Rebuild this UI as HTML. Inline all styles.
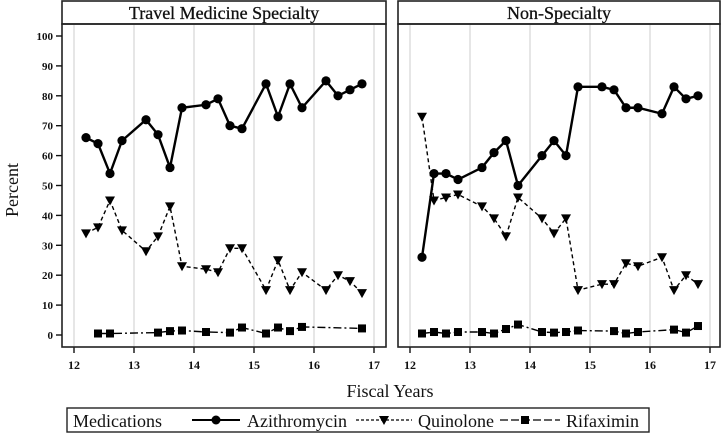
<!DOCTYPE html>
<html><head><meta charset="utf-8"><style>
body{margin:0;background:#fff;}
svg text{font-family:"Liberation Serif",serif;fill:#111;}
</style></head><body>
<svg id="chart" width="725" height="434" viewBox="0 0 725 434"></svg>
<script>
const xVals=[12.2,12.4,12.6,12.8,13.2,13.4,13.6,13.8,14.2,14.4,14.6,14.8,15.2,15.4,15.6,15.8,16.2,16.4,16.6,16.8];
const azL=[66,64,54,65,72,67,56,76,77,79,70,69,84,73,84,76,85,80,82,84];
const quL=[34,36,45,35,28,33,43,23,22,21,29,29,15,25,15,21,15,20,18,14];
const rfxL=[12.4,12.6,13.4,13.6,13.8,14.2,14.6,14.8,15.2,15.4,15.6,15.8,16.8];
const rfL=[0.5,0.5,0.8,1.3,1.5,1,0.8,2.5,0.5,2.5,1.3,2.7,2.2];
const azR=[26,54,54,52,56,61,65,50,60,65,60,83,83,82,76,76,74,83,79,80];
const quR=[73,45,46,47,43,39,33,46,39,34,39,15,17,17,24,23,26,15,20,17];
const rfxR=[12.2,12.4,12.6,12.8,13.2,13.4,13.6,13.8,14.2,14.4,14.6,14.8,15.4,15.6,15.8,16.4,16.6,16.8];
const rfR=[0.5,1,0.5,1,1,0.5,2,3.5,1,0.8,1,1.5,1.3,0.5,1,1.8,0.8,3];
const yTicks=[0,10,20,30,40,50,60,70,80,90,100];
const xTicks=[12,13,14,15,16,17];
const panels=[{title:"Travel Medicine Specialty",x0:62,x1:386,az:azL,qu:quL,rx:rfxL,rf:rfL,name:"specialty"},
{title:"Non-Specialty",x0:398,x1:720,az:azR,qu:quR,rx:rfxR,rf:rfR,name:"non-specialty"}];
const svg=document.getElementById('chart');
const NS="http://www.w3.org/2000/svg";
function mk(t,a,p){const e=document.createElementNS(NS,t);for(const k in a)e.setAttribute(k,a[k]);(p||svg).appendChild(e);return e;}
const yS=v=>335-v*2.99;
panels.forEach(p=>{
  const g=mk('g',{});
  
  
  const xS=v=>p.x0+12+(v-12)*60;
  xTicks.forEach(t=>{
    const l=mk('line',{x1:xS(t),x2:xS(t),y1:25,y2:346,stroke:'#ddd','stroke-width':1.5},g);
    
    
    mk('line',{x1:xS(t),x2:xS(t),y1:347,y2:353,stroke:'#111','stroke-width':1.4},g);
    const tx=mk('text',{x:xS(t),y:369,'font-size':12,'font-weight':'bold','text-anchor':'middle'},g);
    tx.textContent=t;
    
    
  });
  const hb=mk('rect',{x:p.x0,y:1,width:p.x1-p.x0,height:23,fill:'#fff',stroke:'#222','stroke-width':1.6},g);
  
  
  const ht=mk('text',{x:(p.x0+p.x1)/2,y:19,'font-size':18,'text-anchor':'middle',stroke:'#111','stroke-width':0.3},g);
  ht.textContent=p.title;
  
  
  const fr=mk('rect',{x:p.x0,y:24,width:p.x1-p.x0,height:323,fill:'none',stroke:'#222','stroke-width':1.6},g);
  
  
  const pl=(xs,ys,dash,w,nm)=>{const e=mk('polyline',{points:xs.map((x,i)=>xS(x)+','+yS(ys[i])).join(' '),fill:'none',stroke:'#000','stroke-width':w,'stroke-dasharray':dash},g);
    
    };
  pl(xVals,p.az,'none',2.4,'azithromycin-line');
  pl(xVals,p.qu,'4 3',1.4,'quinolone-line');
  pl(p.rx,p.rf,'8 3 2 3',1.4,'rifaximin-line');
  xVals.forEach((x,i)=>{
    const c=mk('circle',{cx:xS(x),cy:yS(p.az[i]),r:4.6,fill:'#000'},g);
    
    
    const cx=xS(x),cy=yS(p.qu[i]);
    const t=mk('polygon',{points:`${cx-5},${cy-4} ${cx+5},${cy-4} ${cx},${cy+5}`,fill:'#000'},g);
    
    
  });
  p.rx.forEach((x,i)=>{
    const s=mk('rect',{x:xS(x)-4,y:yS(p.rf[i])-4,width:8,height:8,fill:'#000'},g);
    
    
  });
});
yTicks.forEach(t=>{
  mk('line',{x1:56,x2:62,y1:yS(t),y2:yS(t),stroke:'#111','stroke-width':1.4});
  const tx=mk('text',{x:53,y:yS(t)+4,'font-size':11,'font-weight':'bold','text-anchor':'end'});
  tx.textContent=t;
  
  
});
const yt=mk('text',{x:18,y:190,'font-size':18,'text-anchor':'middle',transform:'rotate(-90 18 190)'});
yt.textContent='Percent';


const xt=mk('text',{x:390,y:397,'font-size':18,'text-anchor':'middle'});
xt.textContent='Fiscal Years';


const lg=mk('g',{});


mk('rect',{x:67,y:408,width:582,height:24,fill:'#fff',stroke:'#222','stroke-width':1.4},lg);
const lt=mk('text',{x:73,y:427,'font-size':18},lg);lt.textContent='Medications';
mk('line',{x1:192,x2:240,y1:420,y2:420,stroke:'#000','stroke-width':2},lg);
mk('circle',{cx:216,cy:420,r:4.5,fill:'#000'},lg);
const a=mk('text',{x:247,y:427,'font-size':18},lg);a.textContent='Azithromycin';


mk('line',{x1:356,x2:412,y1:420,y2:420,stroke:'#000','stroke-width':1.3,'stroke-dasharray':'3 2'},lg);
mk('polygon',{points:'379,416 389,416 384,425',fill:'#000'},lg);
const q=mk('text',{x:418,y:427,'font-size':18},lg);q.textContent='Quinolone';


mk('line',{x1:500,x2:560,y1:420,y2:420,stroke:'#000','stroke-width':1.3,'stroke-dasharray':'8 3'},lg);
mk('rect',{x:521,y:416,width:8,height:8,fill:'#000'},lg);
const r=mk('text',{x:566,y:427,'font-size':18},lg);r.textContent='Rifaximin';


</script>
</body></html>
